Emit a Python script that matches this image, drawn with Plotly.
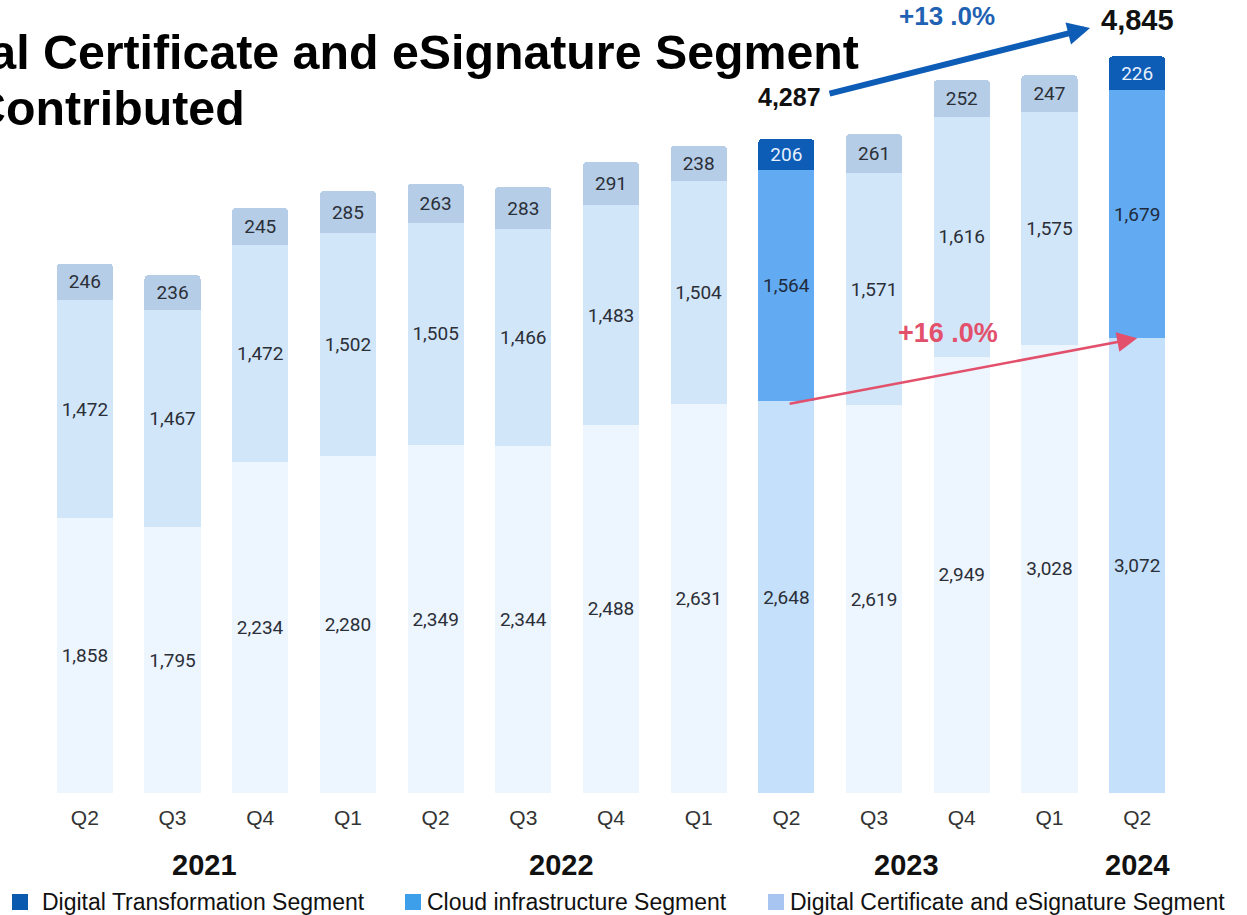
import plotly.graph_objects as go

# Quarterly revenue by segment (stack order: bottom -> top)
quarters = ["Q2", "Q3", "Q4", "Q1", "Q2", "Q3", "Q4", "Q1", "Q2", "Q3", "Q4", "Q1", "Q2"]
years = ["2021", "2022", "2023", "2024"]
cert_esign = [1858, 1795, 2234, 2280, 2349, 2344, 2488, 2631, 2648, 2619, 2949, 3028, 3072]
cloud_infra = [1472, 1467, 1472, 1502, 1505, 1466, 1483, 1504, 1564, 1571, 1616, 1575, 1679]
digital_transf = [246, 236, 245, 285, 263, 283, 291, 238, 206, 261, 252, 247, 226]
total_labels = ["4,287", "4,845"]
growth_labels = ["+13 .0%", "+16 .0%"]
legend_names = ["Digital Transformation Segment", "Cloud infrastructure Segment",
                "Digital Certificate and eSignature Segment"]

highlight = {8, 12}  # the two Q2 bars being compared
x = list(range(len(quarters)))

FONT_LABEL = "Roboto"
FONT_HEAD = "Liberation Sans, Arial"
PLOT_L, PLOT_W, PLOT_H = 41, 1140, 793


def colors(normal, accent):
    return [accent if i in highlight else normal for i in x]


def fmt(vals):
    return [f"{v:,}" for v in vals]


def px_x(p):
    return (p - PLOT_L) / PLOT_W


def px_y(p):
    return 1 - p / PLOT_H


fig = go.Figure()

series = [
    (legend_names[2], cert_esign, "#edf5fe", "#c4e0fb", "#2b2f38", "#2b2f38"),
    (legend_names[1], cloud_infra, "#d2e6f9", "#62aaf1", "#2b2f38", "#1f2a3c"),
    (legend_names[0], digital_transf, "#b5cde6", "#0d5cb6", "#2b2f38", "#e6f0ff"),
]
for name, vals, c_norm, c_acc, t_norm, t_acc in series:
    fig.add_trace(go.Bar(
        x=x, y=vals, name=name, showlegend=False,
        marker=dict(color=colors(c_norm, c_acc), line=dict(width=0)),
        width=0.64,
        text=fmt(vals), textposition="inside", insidetextanchor="middle",
        textangle=0, constraintext="none",
        textfont=dict(family=FONT_LABEL, size=19, color=colors(t_norm, t_acc)),
    ))

annotations = []
shapes = []

# Growth arrows
annotations.append(dict(
    x=11.463, y=5169, ax=8.475, ay=4723, xref="x", yref="y", axref="x", ayref="y",
    text="", showarrow=True, arrowhead=2, arrowsize=0.75, arrowwidth=6,
    arrowcolor="#0d5cb6", standoff=0, startstandoff=0,
))
annotations.append(dict(
    x=12, y=cert_esign[12], ax=8.02, ay=cert_esign[8] - 20, xref="x", yref="y", axref="x", ayref="y",
    text="", showarrow=True, arrowhead=2, arrowsize=1.6, arrowwidth=2.5,
    arrowcolor="#e2506b", standoff=0, startstandoff=0,
))

# Totals and growth rates
annotations += [
    dict(x=8.04, y=4706, xref="x", yref="y", text=f"<b>{total_labels[0]}</b>", showarrow=False,
         font=dict(family=FONT_HEAD, size=25, color="#111111")),
    dict(x=12.0, y=5226, xref="x", yref="y", text=f"<b>{total_labels[1]}</b>", showarrow=False,
         font=dict(family=FONT_HEAD, size=29, color="#111111")),
    dict(x=9.83, y=5247, xref="x", yref="y", text=f"<b>{growth_labels[0]}</b>", showarrow=False,
         font=dict(family=FONT_HEAD, size=26, color="#1f62b3")),
    dict(x=9.84, y=3110, xref="x", yref="y", text=f"<b>{growth_labels[1]}</b>", showarrow=False,
         font=dict(family=FONT_HEAD, size=27, color="#e2506b")),
]

# Year labels below the quarter ticks
for yr, pos in zip(years, [1.37, 5.43, 9.375, 12.0]):
    annotations.append(dict(
        x=pos, y=px_y(865), xref="x", yref="paper", yanchor="middle",
        text=f"<b>{yr}</b>", showarrow=False,
        font=dict(family=FONT_HEAD, size=29, color="#111111"),
    ))

# Heading (runs past the left edge of the canvas)
annotations.append(dict(
    x=px_x(-120), y=px_y(52), xref="paper", yref="paper",
    xanchor="left", yanchor="middle", showarrow=False,
    text="<b>Digital Certificate and eSignature Segment</b>",
    font=dict(family=FONT_HEAD, size=48.3, color="#000000"),
))
annotations.append(dict(
    x=px_x(-31), y=px_y(108), xref="paper", yref="paper",
    xanchor="left", yanchor="middle", showarrow=False,
    text="<b>Contributed</b>",
    font=dict(family=FONT_HEAD, size=48.3, color="#000000"),
))

# Legend row: colour squares with their segment names
legend_cols = ["#0a5bb0", "#3d9fe9", "#a8c4f1"]
legend_sq = [12, 405, 768]
legend_txt = [40, 425, 788]
for name, col, sq, tx in zip(legend_names, legend_cols, legend_sq, legend_txt):
    shapes.append(dict(
        type="rect", xref="paper", yref="paper",
        x0=px_x(sq), x1=px_x(sq + 16), y0=px_y(910), y1=px_y(894),
        fillcolor=col, line=dict(width=0),
    ))
    annotations.append(dict(
        x=px_x(tx), y=px_y(902), xref="paper", yref="paper",
        xanchor="left", yanchor="middle", showarrow=False,
        text=name, font=dict(family=FONT_HEAD, size=23, color="#111111"),
    ))

fig.update_layout(
    width=1247, height=915,
    margin=dict(l=PLOT_L, r=66, t=0, b=122, autoexpand=False),
    paper_bgcolor="white", plot_bgcolor="white",
    barmode="stack", barcornerradius=4, showlegend=False,
    annotations=annotations, shapes=shapes,
    xaxis=dict(
        tickmode="array", tickvals=x, ticktext=quarters, range=[-0.5, 12.5],
        showgrid=False, zeroline=False, showline=False, ticks="",
        tickfont=dict(family=FONT_HEAD, size=21, color="#333333"),
        ticklabelstandoff=10,
    ),
    yaxis=dict(range=[0, 5358], visible=False),
)

fig.write_html("out.html")
